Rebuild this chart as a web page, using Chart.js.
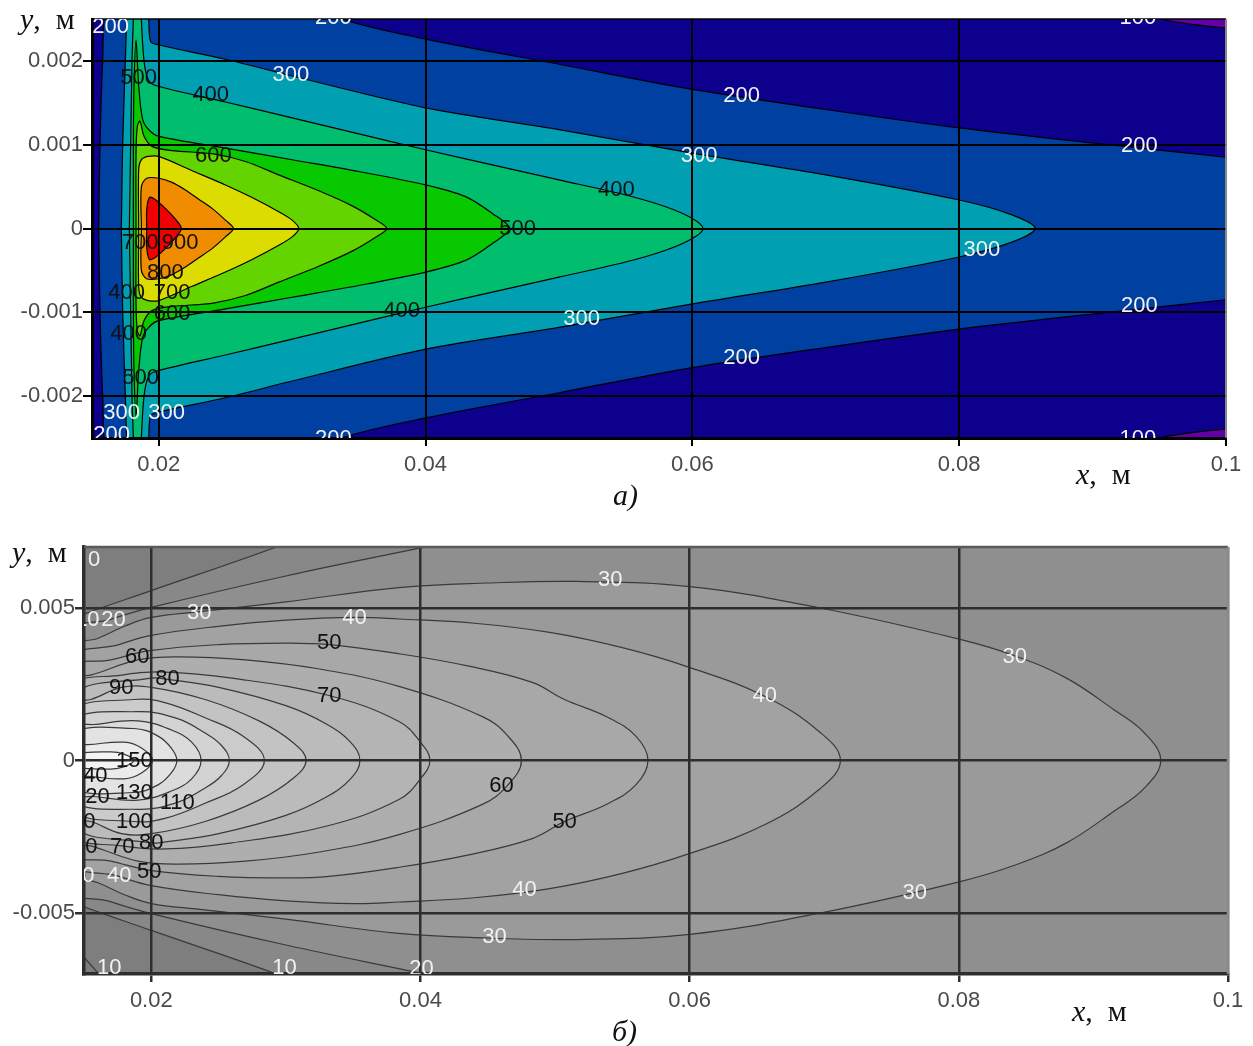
<!DOCTYPE html>
<html>
<head>
<meta charset="utf-8">
<title>Isotherms</title>
<script src="https://cdn.jsdelivr.net/npm/chart.js@4.4.1/dist/chart.umd.min.js"></script>
<style>
  body { margin: 0; background: #fff; }
  #wrap { position: relative; width: 1253px; height: 1046px; overflow: hidden; }
  canvas { position: absolute; left: 0; }
  #top { top: 0; }
  #bottom { top: 510px; }
  .cap { position: absolute; font-family: 'Liberation Serif', serif; font-size: 30px; line-height: 30px; color: #111; white-space: nowrap; }
</style>
</head>
<body>
<div id="wrap">
  <canvas id="top" width="1253" height="510"></canvas>
  <canvas id="bottom" width="1253" height="536"></canvas>
  <div class="cap" style="left:20px;top:4px"><i>y</i>,&nbsp; м</div>
  <div class="cap" style="left:1076px;top:459px"><i>x</i>,&nbsp; м</div>
  <div class="cap" style="left:613px;top:480px"><i>а)</i></div>
  <div class="cap" style="left:12px;top:537px"><i>y</i>,&nbsp; м</div>
  <div class="cap" style="left:1072px;top:996px"><i>x</i>,&nbsp; м</div>
  <div class="cap" style="left:612px;top:1016px"><i>б)</i></div>
</div>
<script>
// shared axis ticks
var xTicks = [0.02, 0.04, 0.06, 0.08, 0.1];
var topYTicks = [-0.002, -0.001, 0, 0.001, 0.002];
var botYTicks = [-0.005, 0, 0.005];

// ---- panel a): isotherm levels, upper half of each isoline (field is symmetric about y = 0)
var topLevels = [100, 200, 300, 400, 500, 600, 700, 800, 900];
var topX = [
  [0.010, 0.010, 0.060, 0.090, 0.0951, 0.100, 0.110, 0.150],
  [0.0155, 0.0156, 0.0158, 0.0161, 0.018, 0.025, 0.030, 0.0337, 0.040, 0.050, 0.060, 0.070, 0.080, 0.090, 0.100, 0.115, 0.140],
  [0.0172, 0.0173, 0.0175, 0.0176, 0.0178, 0.0190, 0.01925, 0.0194, 0.0200, 0.025, 0.030, 0.040, 0.050, 0.060, 0.070, 0.080, 0.084, 0.0857],
  [0.0178, 0.0179, 0.0180, 0.0181, 0.0182, 0.0186, 0.0187, 0.0189, 0.0192, 0.0197, 0.025, 0.030, 0.035, 0.040, 0.045, 0.050, 0.055, 0.058, 0.060, 0.0608],
  [0.0181, 0.0181, 0.01815, 0.0183, 0.0185, 0.0188, 0.0193, 0.020, 0.025, 0.030, 0.035, 0.040, 0.043, 0.045, 0.0463],
  [0.0183, 0.0183, 0.0184, 0.0186, 0.0189, 0.0195, 0.021, 0.0241, 0.0265, 0.029, 0.032, 0.0345, 0.0362, 0.0371],
  [0.0185, 0.0185, 0.0187, 0.0192, 0.020, 0.0225, 0.025, 0.027, 0.029, 0.030, 0.0305],
  [0.0187, 0.0187, 0.0191, 0.020, 0.021, 0.022, 0.023, 0.024, 0.025, 0.0256],
  [0.0191, 0.0191, 0.0193, 0.0197, 0.0205, 0.0212, 0.0217]
];
var topY = [
  [0, 0.0035, 0.0033, 0.0028, 0.0025, 0.00239, 0.0022, 0],
  [0, 0.0010, 0.0020, 0.0027, 0.0033, 0.0031, 0.0028, 0.0025, 0.00226, 0.00196, 0.00166, 0.00142, 0.0012, 0.00102, 0.00085, 0.0006, 0],
  [0, 0.001, 0.002, 0.0025, 0.0030, 0.0030, 0.0025, 0.00223, 0.00219, 0.00202, 0.00182, 0.00144, 0.00118, 0.0009, 0.00064, 0.00034, 0.00016, 0],
  [0, 0.001, 0.002, 0.0025, 0.0031, 0.0031, 0.0025, 0.0020, 0.00178, 0.00171, 0.00151, 0.00132, 0.00113, 0.00094, 0.00076, 0.00058, 0.0004, 0.00026, 0.00012, 0],
  [0, 0.001, 0.0017, 0.00225, 0.0017, 0.0013, 0.00117, 0.0011, 0.00096, 0.00082, 0.00068, 0.00052, 0.00038, 0.00018, 0],
  [0, 0.0009, 0.00122, 0.00128, 0.0011, 0.00098, 0.00093, 0.00089, 0.0008, 0.00064, 0.00045, 0.00027, 0.00011, 0],
  [0, 0.0007, 0.00082, 0.00086, 0.00086, 0.00069, 0.00052, 0.00037, 0.0002, 0.0001, 0],
  [0, 0.0005, 0.0006, 0.0006, 0.00055, 0.00046, 0.00035, 0.00024, 0.0001, 0],
  [0, 0.00022, 0.00037, 0.00035, 0.00024, 0.00012, 0]
];
var topColors = ['#0d008c', '#0040a0', '#00a0b2', '#00be6e', '#08c800', '#64d400', '#dcdc00', '#f08c00', '#f00000'];

var topLabelX = [0.0164, 0.0331, 0.0934, 0.0185, 0.0299, 0.0239, 0.0637, 0.0241, 0.0605, 0.0935, 0.0543, 0.0469, 0.0186, 0.0216, 0.0817,
  0.0205, 0.0176, 0.0210, 0.0210, 0.01775, 0.0382, 0.0517, 0.0935, 0.01865, 0.0637, 0.01722, 0.0206, 0.01647, 0.0331, 0.0934];
var topLabelY = [0.00241, 0.00251, 0.00251, 0.0018, 0.00183, 0.00159, 0.00158, 0.00087, 0.00087, 0.00098, 0.00046, 0, -0.00017, -0.00017, -0.00026,
  -0.00053, -0.00077, -0.00077, -0.00102, -0.00126, -0.00098, -0.00108, -0.00093, -0.00178, -0.00154, -0.0022, -0.0022, -0.00246, -0.00251, -0.00251];
var topLabelText = ['200', '200', '100', '500', '300', '400', '200', '600', '300', '200', '400', '500', '700', '900', '300',
  '800', '400', '700', '600', '400', '400', '300', '200', '500', '200', '300', '300', '200', '200', '100'];

// ---- panel б)
var botLevels = [10, 20, 30, 40, 50, 60, 70, 80, 90, 100, 110, 120, 130, 140, 150];
var botX = [
  [0.014, 0.014, 0.0150, 0.020, 0.0293, 0.035, 0.050, 0.200, 0.200],
  [0.014, 0.014, 0.0169, 0.020, 0.030, 0.040, 0.050, 0.200, 0.200],
  [0.014, 0.014, 0.0160, 0.0180, 0.020, 0.0236, 0.030, 0.0384, 0.045, 0.0516, 0.060, 0.0697, 0.0801, 0.0843, 0.088, 0.0915, 0.0938, 0.0950],
  [0.014, 0.014, 0.0176, 0.020, 0.025, 0.030, 0.0351, 0.0384, 0.044, 0.0496, 0.055, 0.0598, 0.0656, 0.0697, 0.0712],
  [0.014, 0.014, 0.017, 0.0199, 0.025, 0.030, 0.0332, 0.0384, 0.0435, 0.0483, 0.0507, 0.0538, 0.0560, 0.0569],
  [0.014, 0.014, 0.0155, 0.019, 0.022, 0.027, 0.0325, 0.0384, 0.0446, 0.0465, 0.0475],
  [0.014, 0.014, 0.0178, 0.021, 0.026, 0.0332, 0.0384, 0.0400, 0.0407],
  [0.014, 0.014, 0.020, 0.0212, 0.025, 0.030, 0.033, 0.0348, 0.0355],
  [0.014, 0.014, 0.0155, 0.0178, 0.020, 0.024, 0.028, 0.0305, 0.0315],
  [0.014, 0.014, 0.0187, 0.021, 0.024, 0.0268, 0.0284],
  [0.014, 0.014, 0.019, 0.0219, 0.0240, 0.0252, 0.0258],
  [0.014, 0.014, 0.0157, 0.019, 0.0215, 0.0230, 0.0237],
  [0.014, 0.014, 0.0187, 0.0205, 0.0215, 0.0219],
  [0.014, 0.014, 0.0153, 0.018, 0.0193, 0.0201],
  [0.014, 0.014, 0.017, 0.0180, 0.0187]
];
var botY = [
  [0, 0.0046, 0.0048, 0.00557, 0.0070, 0.0080, 0.0090, 0.0090, 0],
  [0, 0.0042, 0.00462, 0.00502, 0.00605, 0.00697, 0.0079, 0.0089, 0],
  [0, 0.0037, 0.0040, 0.0044, 0.00469, 0.00488, 0.0052, 0.00567, 0.00582, 0.00587, 0.0057, 0.0050, 0.00397, 0.00341, 0.0027, 0.00167, 0.0009, 0],
  [0, 0.0033, 0.0038, 0.0041, 0.0044, 0.0046, 0.00469, 0.00464, 0.0045, 0.0042, 0.0037, 0.00308, 0.0021, 0.00092, 0],
  [0, 0.0030, 0.0033, 0.0036, 0.0038, 0.00385, 0.0038, 0.0035, 0.0031, 0.00256, 0.0020, 0.00144, 0.0008, 0],
  [0, 0.0027, 0.0028, 0.0033, 0.0034, 0.0033, 0.0030, 0.00243, 0.00144, 0.0008, 0],
  [0, 0.0024, 0.0028, 0.0029, 0.0027, 0.00213, 0.00128, 0.0006, 0],
  [0, 0.0021, 0.0027, 0.00266, 0.0024, 0.0018, 0.0012, 0.0006, 0],
  [0, 0.0019, 0.0020, 0.0024, 0.0024, 0.0020, 0.0013, 0.0006, 0],
  [0, 0.0016, 0.0020, 0.0019, 0.0014, 0.0008, 0],
  [0, 0.0013, 0.0016, 0.00138, 0.0009, 0.0005, 0],
  [0, 0.0011, 0.00118, 0.0013, 0.0010, 0.0006, 0],
  [0, 0.0009, 0.00105, 0.0008, 0.0004, 0],
  [0, 0.0005, 0.00052, 0.0006, 0.0004, 0],
  [0, 0.0002, 0.00028, 0.0002, 0]
];
var botColors = ['#888888', '#8f8f8f', '#9a9a9a', '#a2a2a2', '#a8a8a8', '#aeaeae', '#b4b4b4', '#bbbbbb', '#c3c3c3',
  '#cbcbcb', '#d3d3d3', '#dbdbdb', '#e3e3e3', '#ebebeb', '#f4f4f4'];
// small isoline piece in the lower left corner
var cornerX = [0.0145, 0.0165];
var cornerY = [-0.0062, -0.0072];

var botLabelX = [0.01576, 0.01525, 0.0172, 0.02357, 0.0541, 0.0351, 0.03323, 0.01896, 0.0212, 0.01777, 0.03323, 0.06558, 0.08416, 0.01874,
  0.01539, 0.01554, 0.01874, 0.02193, 0.01494, 0.01874, 0.01509, 0.01784, 0.020, 0.01487, 0.01762, 0.01985, 0.04602, 0.05071,
  0.04773, 0.07673, 0.0455, 0.01688, 0.02989, 0.04007];
var botLabelY = [0.00659, 0.00462, 0.00462, 0.00485, 0.00593, 0.00469, 0.00387, 0.00338, 0.00266, 0.00239, 0.00213, 0.00213, 0.00341, 0,
  -0.00052, -0.00118, -0.00105, -0.00138, -0.00203, -0.00203, -0.00282, -0.00282, -0.00269, -0.0038, -0.0038, -0.00364, -0.00082, -0.002,
  -0.00423, -0.00433, -0.0058, -0.00679, -0.00679, -0.00685];
var botLabelText = ['0', '10', '20', '30', '30', '40', '50', '60', '80', '90', '70', '40', '30', '150',
  '140', '120', '130', '110', '90', '100', '60', '70', '80', '30', '40', '50', '60', '50',
  '40', '30', '30', '10', '10', '20'];

Chart.defaults.font.family = "'Liberation Sans', Arial, sans-serif";

// closed isoline: upper half left->tip, then mirrored lower half back
function ring(xs, ys) {
  var pts = [];
  for (var i = 0; i < xs.length; i++) pts.push({x: xs[i], y: ys[i]});
  for (var j = xs.length - 2; j >= 0; j--) pts.push({x: xs[j], y: -ys[j]});
  return pts;
}

function isoLabels(xs, ys, texts, whiteMax) {
  return {
    id: 'isoLabels',
    afterDraw: function (chart) {
      var ctx = chart.ctx, a = chart.chartArea;
      var sx = chart.scales.x, sy = chart.scales.y;
      ctx.save();
      ctx.beginPath();
      ctx.rect(a.left, a.top, a.right - a.left, a.bottom - a.top);
      ctx.clip();
      ctx.font = "22px 'Liberation Sans'";
      ctx.textAlign = 'center';
      ctx.textBaseline = 'middle';
      for (var i = 0; i < texts.length; i++) {
        ctx.fillStyle = (+texts[i] <= whiteMax) ? '#f2f2f2' : '#111';
        ctx.fillText(texts[i], sx.getPixelForValue(xs[i]), sy.getPixelForValue(ys[i]));
      }
      ctx.restore();
    }
  };
}

function frame(base, topColor, rightColor, width) {
  return {
    id: 'frame',
    beforeDatasetsDraw: function (chart) {
      var ctx = chart.ctx, a = chart.chartArea;
      ctx.save();
      ctx.fillStyle = base;
      ctx.fillRect(a.left, a.top, a.right - a.left, a.bottom - a.top);
      ctx.restore();
    },
    afterDraw: function (chart) {
      var ctx = chart.ctx, a = chart.chartArea;
      ctx.save();
      ctx.lineWidth = width;
      ctx.strokeStyle = topColor;
      ctx.beginPath(); ctx.moveTo(a.left, a.top); ctx.lineTo(a.right, a.top); ctx.stroke();
      ctx.strokeStyle = rightColor;
      ctx.beginPath(); ctx.moveTo(a.right, a.top); ctx.lineTo(a.right, a.bottom); ctx.stroke();
      ctx.restore();
    }
  };
}

function axes(yTicks, yWidth, gridColor, gridWidth) {
  var tickFont = {size: 22};
  return {
    x: {
      type: 'linear', min: 0.015, max: 0.1,
      afterBuildTicks: function (s) { s.ticks = xTicks.map(function (v) { return {value: v}; }); },
      afterFit: function (s) { s.height = 72; },
      grid: {
        z: 1,
        color: function (c) { return c.tick && c.tick.value === 0.1 ? '#888' : gridColor; },
        lineWidth: gridWidth, tickLength: 8, tickColor: gridColor
      },
      border: {display: true, color: gridColor, width: gridWidth + 1, z: 2},
      ticks: {color: '#4a4a4a', font: tickFont, padding: 6, maxRotation: 0, autoSkip: false,
        callback: function (v) { return String(v); }}
    },
    y: {
      type: 'linear',
      afterBuildTicks: function (s) { s.ticks = yTicks.map(function (v) { return {value: v}; }); },
      afterFit: function (s) { s.width = yWidth; },
      grid: {z: 1, color: gridColor, lineWidth: gridWidth, tickLength: 9, tickColor: gridColor},
      border: {display: true, color: gridColor, width: gridWidth + 1, z: 2},
      ticks: {color: '#4a4a4a', font: tickFont, padding: 0, autoSkip: false,
        callback: function (v) { return String(v); }}
    }
  };
}

function isoDatasets(levels, xs, ys, colors, lineColor, tension) {
  return levels.map(function (lv, i) {
    return {
      data: ring(xs[i], ys[i]),
      fill: 'shape',
      backgroundColor: colors[i],
      borderColor: lineColor,
      borderWidth: 1.2,
      pointRadius: 0,
      tension: tension,
      order: -lv
    };
  });
}

var common = {
  responsive: false, animation: false, devicePixelRatio: 1, events: [],
  elements: {line: {capBezierPoints: false, borderJoinStyle: 'round'}, point: {radius: 0}},
  plugins: {legend: {display: false}, tooltip: {enabled: false}}
};

// panel a)
var topScales = axes(topYTicks, 92, '#000', 2);
topScales.y.min = -0.0025; topScales.y.max = 0.0025;
new Chart(document.getElementById('top'), {
  type: 'line',
  data: {datasets: isoDatasets(topLevels, topX, topY, topColors, '#000', 0.3)},
  options: Object.assign({}, common, {
    layout: {padding: {top: 19, right: 27, left: 0, bottom: 0}},
    scales: topScales
  }),
  plugins: [frame('#6400a8', '#000', '#888', 1.5), isoLabels(topLabelX, topLabelY, topLabelText, 300)]
});

// panel б)
var botScales = axes(botYTicks, 84, '#2e2e2e', 2.5);
botScales.y.min = -0.007; botScales.y.max = 0.007;
var botSets = isoDatasets(botLevels, botX, botY, botColors, '#3a3a3a', 0.4);
botSets.push({
  data: cornerX.map(function (x, i) { return {x: x, y: cornerY[i]}; }),
  fill: false, borderColor: '#3a3a3a', borderWidth: 1.2, pointRadius: 0, order: -1000
});
new Chart(document.getElementById('bottom'), {
  type: 'line',
  data: {datasets: botSets},
  options: Object.assign({}, common, {
    layout: {padding: {top: 37, right: 25, left: 0, bottom: 0}},
    scales: botScales
  }),
  plugins: [frame('#7e7e7e', '#5a5a5a', '#8a8a8a', 2.5), isoLabels(botLabelX, botLabelY, botLabelText, 40)]
});
</script>
</body>
</html>
